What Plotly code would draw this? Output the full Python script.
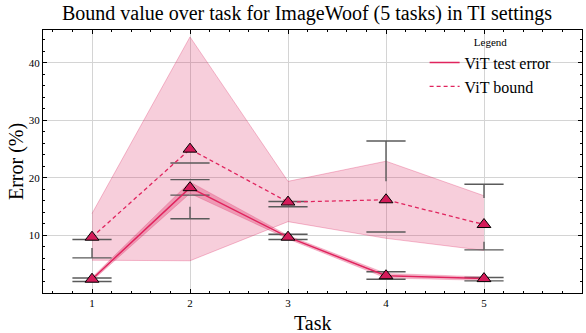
import plotly.graph_objects as go

# данные
tasks = [1, 2, 3, 4, 5]

test_error = [2.4, 18.3, 9.7, 3.0, 2.5]
test_lo = [2.1, 17.3, 9.4, 2.6, 2.2]
test_hi = [2.7, 19.3, 10.0, 3.4, 2.8]

bound = [9.7, 25.0, 15.8, 16.2, 11.9]
bound_lo = [5.7, 5.6, 12.4, 9.5, 7.4]
bound_hi = [13.8, 44.5, 19.4, 22.9, 16.9]

# планки погрешностей (концы) и видимые вертикальные участки
test_caps_hi = [2.6, 19.7, 10.2, 3.7, 2.7]
test_caps_lo = [2.0, 17.0, 9.3, 2.4, 2.1]
bound_caps_hi = [9.3, 22.6, 15.9, 26.4, 18.9]
bound_caps_lo = [6.1, 12.9, 15.0, 10.6, 7.5]
whisker_task = [1, 2, 4, 5, 5]
whisker_top = [7.8, 15.0, 26.4, 18.9, 8.9]
whisker_bottom = [6.1, 12.9, 19.4, 16.5, 7.5]

LINE = "#e0245e"
MARK = "#d41c5a"
BAND = "rgba(220,30,90,0.22)"
BAND_TEST = "rgba(220,30,90,0.30)"
EDGE = "rgba(220,30,90,0.28)"
CAP = "#5a5a5a"
FONT = "Liberation Serif"
CAP_HALF = 0.2

fig = go.Figure()

# полоса для bound
fig.add_trace(go.Scatter(x=tasks, y=bound_hi, mode="lines",
                         line=dict(color=EDGE, width=1), showlegend=False, hoverinfo="skip"))
fig.add_trace(go.Scatter(x=tasks, y=bound_lo, mode="lines", fill="tonexty", fillcolor=BAND,
                         line=dict(color=EDGE, width=1), showlegend=False, hoverinfo="skip"))

# полоса для test error
fig.add_trace(go.Scatter(x=tasks, y=test_hi, mode="lines",
                         line=dict(color=EDGE, width=0.8), showlegend=False, hoverinfo="skip"))
fig.add_trace(go.Scatter(x=tasks, y=test_lo, mode="lines", fill="tonexty", fillcolor=BAND_TEST,
                         line=dict(color=EDGE, width=0.8), showlegend=False, hoverinfo="skip"))

# концы планок
cx, cy = [], []
for caps in (test_caps_hi, test_caps_lo, bound_caps_hi, bound_caps_lo):
    for t, v in zip(tasks, caps):
        cx += [t - CAP_HALF, t + CAP_HALF, None]
        cy += [v, v, None]
for t, a, b in zip(whisker_task, whisker_top, whisker_bottom):
    cx += [t, t, None]
    cy += [a, b, None]
fig.add_trace(go.Scatter(x=cx, y=cy, mode="lines", line=dict(color=CAP, width=1.4),
                         showlegend=False, hoverinfo="skip"))

# линии
fig.add_trace(go.Scatter(x=tasks, y=test_error, mode="lines", name="ViT test error",
                         line=dict(color=LINE, width=1.5)))
fig.add_trace(go.Scatter(x=tasks, y=bound, mode="lines", name="ViT bound",
                         line=dict(color=LINE, width=1.3, dash="4px,3px")))

# маркеры
for ys in (test_error, bound):
    fig.add_trace(go.Scatter(x=tasks, y=ys, mode="markers", showlegend=False,
                             marker=dict(symbol="triangle-up", size=12, color=MARK,
                                         line=dict(color="black", width=1))))

axis_common = dict(
    showline=True, linecolor="black", linewidth=1, mirror="allticks",
    ticks="inside", ticklen=4, tickcolor="black", automargin=False,
    showgrid=True, gridcolor="#d4d4d4", gridwidth=1, zeroline=False,
    tickfont=dict(family=FONT, size=11, color="black"),
)

fig.update_layout(
    width=586, height=333,
    margin=dict(l=43, r=4, t=30, b=40, autoexpand=False),
    paper_bgcolor="white", plot_bgcolor="white",
    font=dict(family=FONT, color="black"),
    title=dict(text="Bound value over task for ImageWoof (5 tasks) in TI settings",
               x=0.524, xanchor="center", y=0.962, yanchor="middle",
               font=dict(family=FONT, size=20)),
    xaxis=dict(range=[0.5, 6.0], tickvals=tasks,
               minor=dict(dtick=0.2, tick0=0, ticks="inside", ticklen=2, tickcolor="black", showgrid=False),
               **axis_common),
    yaxis=dict(range=[0, 45.7], tickvals=[10, 20, 30, 40],
               minor=dict(dtick=2, tick0=0, ticks="inside", ticklen=2, tickcolor="black", showgrid=False),
               **axis_common),
    legend=dict(x=0.708, y=0.995, xanchor="left", yanchor="top", bgcolor="rgba(0,0,0,0)",
                traceorder="normal",
                title=dict(text="Legend", side="top center", font=dict(family=FONT, size=11)),
                font=dict(family=FONT, size=16), itemwidth=30),
    annotations=[
        dict(text="Task", x=0.5, y=-0.065, xref="paper", yref="paper",
             xanchor="center", yanchor="top", showarrow=False,
             font=dict(family=FONT, size=20)),
        dict(text="Error (%)", x=-0.024, y=0.5, xref="paper", yref="paper",
             xanchor="right", yanchor="middle", showarrow=False, textangle=-90,
             font=dict(family=FONT, size=20)),
    ],
)

fig.write_html("out.html", config={"displayModeBar": False},
               post_script="document.body.style.margin='0';")
